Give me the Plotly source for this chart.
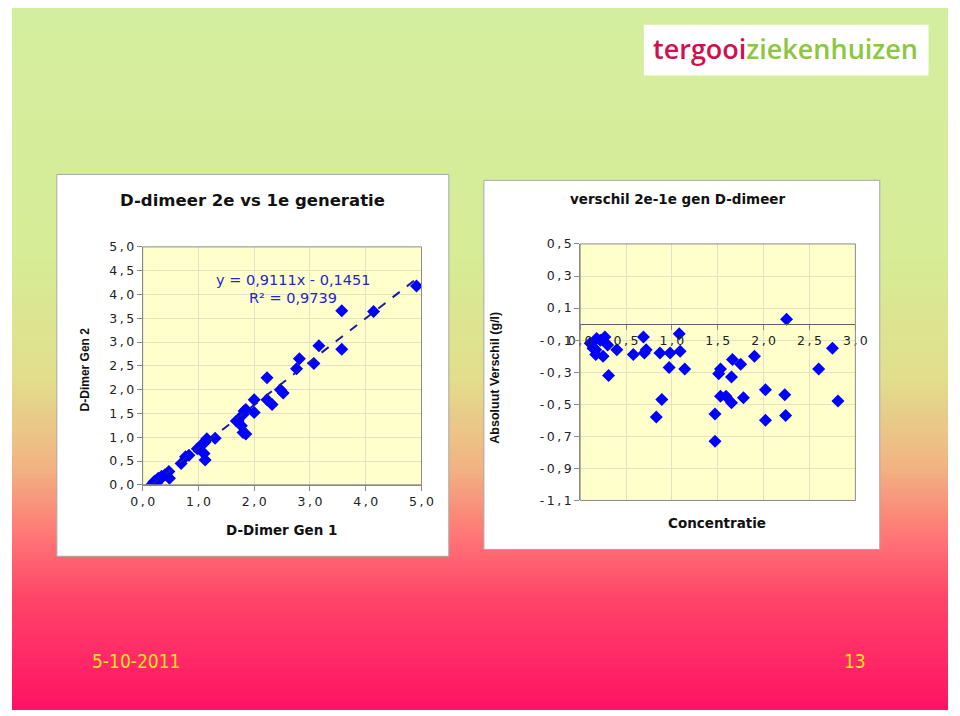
import plotly.graph_objects as go

W, H = 960, 716

# left chart: D-dimer gen 1 vs gen 2
gen1 = [0.16, 0.22, 0.25, 0.28, 0.34, 0.40, 0.47, 0.48, 0.30, 0.20,
        0.69, 0.77, 0.83, 0.98, 1.07, 1.12, 1.15, 1.30, 1.10, 1.12,
        1.68, 1.71, 1.77, 1.80, 1.80, 1.82, 1.85, 1.85, 2.00, 2.00,
        2.23, 2.23, 2.32, 2.47, 2.52, 2.76, 2.81, 3.07, 3.16, 3.57,
        3.57, 4.14, 4.91]
gen2 = [0.00, 0.08, 0.04, 0.14, 0.18, 0.21, 0.28, 0.14, 0.10, 0.06,
        0.45, 0.59, 0.62, 0.76, 0.86, 0.90, 0.97, 0.98, 0.66, 0.52,
        1.34, 1.34, 1.24, 1.10, 1.48, 1.55, 1.58, 1.07, 1.79, 1.52,
        2.25, 1.79, 1.69, 2.00, 1.93, 2.44, 2.65, 2.55, 2.92, 3.66,
        2.85, 3.64, 4.18]

slope = 0.9111
intercept = -0.1451
r_squared = 0.9739
trend_x = [0.15, 4.95]

# right chart: difference vs concentration
conc = [0.11, 0.17, 0.17, 0.18, 0.25, 0.27, 0.30, 0.31, 0.40, 0.58,
        0.69, 0.70, 0.72, 0.83, 0.87, 0.89, 0.97, 0.98, 1.08, 1.09,
        1.14, 1.47, 1.47, 1.51, 1.53, 1.53, 1.59, 1.65, 1.65, 1.66,
        1.75, 1.78, 1.90, 2.02, 2.02, 2.23, 2.24, 2.25, 2.60, 2.75,
        2.81, 0.22, 0.14]
diff = [-0.12, -0.19, -0.16, -0.09, -0.20, -0.08, -0.13, -0.32, -0.16, -0.19,
        -0.08, -0.18, -0.16, -0.58, -0.18, -0.47, -0.27, -0.18, -0.06, -0.17,
        -0.28, -0.56, -0.73, -0.31, -0.28, -0.45, -0.45, -0.33, -0.49, -0.22,
        -0.25, -0.46, -0.20, -0.41, -0.60, -0.44, -0.57, 0.03, -0.28, -0.15,
        -0.48, -0.10, -0.15]

x_ticks_left = [0, 1, 2, 3, 4, 5]
y_ticks_left = [0, 0.5, 1, 1.5, 2, 2.5, 3, 3.5, 4, 4.5, 5]
x_ticks_right = [0, 0.5, 1, 1.5, 2, 2.5, 3]
y_ticks_right = [0.5, 0.3, 0.1, -0.1, -0.3, -0.5, -0.7, -0.9, -1.1]

FONT = "Liberation Sans, Arial, sans-serif"
WIDE = "DejaVu Sans, sans-serif"
BLUE = "#0000ff"
GRID = "#dfe3c4"
FRAME = "#8a8a8a"
THIN = "\u2009"


def px(x):
    return x / W


def py(y):
    return 1 - y / H


def spaced(v):
    # comma decimal, letters pulled apart like the original slide
    return THIN.join(("%.1f" % v).replace(".", ","))


# background gradient (slide style)
stops = [(0, (212, 238, 160)), (250, (214, 236, 150)), (380, (226, 222, 140)),
         (470, (242, 178, 130)), (540, (255, 118, 118)), (600, (255, 70, 105)),
         (716, (255, 18, 100))]


def grad(y):
    for (y0, c0), (y1, c1) in zip(stops[:-1], stops[1:]):
        if y0 <= y <= y1:
            t = (y - y0) / (y1 - y0)
            return "rgb(%d,%d,%d)" % tuple(round(a + (b - a) * t) for a, b in zip(c0, c1))
    return "rgb(255,18,100)"


shapes = []
step = 4
for y in range(0, H, step):
    shapes.append(dict(type="rect", xref="paper", yref="paper", layer="below",
                       x0=0, x1=1, y0=py(y + step + 1), y1=py(y),
                       fillcolor=grad(y + step / 2), line=dict(width=0)))

# white chart panels and logo box
for x0, y0, x1, y1 in [(46, 170, 448, 560), (484, 176, 890, 553)]:
    shapes.append(dict(type="rect", xref="paper", yref="paper", layer="below",
                       x0=px(x0), x1=px(x1), y0=py(y1), y1=py(y0),
                       fillcolor="white", line=dict(color="#a8a8a8", width=1)))
shapes.append(dict(type="rect", xref="paper", yref="paper", layer="below",
                   x0=px(648), x1=px(940), y0=py(69), y1=py(17),
                   fillcolor="white", line=dict(width=0)))

# plot area backgrounds + frames
for xr, yr in [("x domain", "y domain"), ("x2 domain", "y2 domain")]:
    shapes.append(dict(type="rect", xref=xr, yref=yr, layer="below",
                       x0=0, x1=1, y0=0, y1=1,
                       fillcolor="#ffffcc", line=dict(width=0)))
    shapes.append(dict(type="rect", xref=xr, yref=yr, layer="above",
                       x0=0, x1=1, y0=0, y1=1,
                       fillcolor="rgba(0,0,0,0)", line=dict(color=FRAME, width=1)))

fig = go.Figure()

fig.add_trace(go.Scatter(
    x=gen1, y=gen2, mode="markers", xaxis="x", yaxis="y",
    marker=dict(symbol="diamond", size=10, color=BLUE),
))
fig.add_trace(go.Scatter(
    x=trend_x, y=[slope * v + intercept for v in trend_x], mode="lines",
    xaxis="x", yaxis="y",
    line=dict(color="#1a1aa8", width=2, dash="dash"),
))
fig.add_trace(go.Scatter(
    x=conc, y=diff, mode="markers", xaxis="x2", yaxis="y2",
    marker=dict(symbol="diamond", size=10, color=BLUE),
))

axis_common = dict(
    showgrid=True, gridcolor=GRID, gridwidth=1, zeroline=False,
    showline=True, linecolor=FRAME, linewidth=1,
    ticks="outside", ticklen=5, tickcolor=FRAME,
    tickfont=dict(family=WIDE, size=12.5, color="#222222"),
)

left_dom_x = [px(134), px(420)]
left_dom_y = [py(487), py(244)]
right_dom_x = [px(582.7), px(865)]
right_dom_y = [py(503), py(241)]
zero_pos = right_dom_y[0] + (0 - (-1.1)) / 1.6 * (right_dom_y[1] - right_dom_y[0])

fig.update_layout(
    width=W, height=H,
    margin=dict(l=0, r=0, t=0, b=0),
    paper_bgcolor="white",
    plot_bgcolor="rgba(0,0,0,0)",
    showlegend=False,
    font=dict(family=FONT),
    xaxis=dict(axis_common, domain=left_dom_x, range=[0, 5], anchor="y",
               tickvals=x_ticks_left, ticktext=[spaced(v) for v in x_ticks_left]),
    yaxis=dict(axis_common, domain=left_dom_y, range=[0, 5], anchor="x",
               tickvals=y_ticks_left, ticktext=[spaced(v) for v in y_ticks_left]),
    xaxis2=dict(axis_common, domain=right_dom_x, range=[0, 3],
                anchor="free", position=zero_pos, linecolor="#606060",
                tickvals=x_ticks_right, ticktext=[spaced(v) for v in x_ticks_right]),
    yaxis2=dict(axis_common, domain=right_dom_y, range=[-1.1, 0.5], anchor="x2",
                tickvals=y_ticks_right, ticktext=[spaced(v) for v in y_ticks_right]),
    shapes=shapes,
)

dark = "#111111"
annotations = [
    dict(text="<b>D-dimeer 2e vs 1e generatie</b>", x=px(247), y=py(197),
         font=dict(family=WIDE, size=16.5, color=dark)),
    dict(text="<b>verschil 2e-1e gen D-dimeer</b>", x=px(683), y=py(195),
         font=dict(family=WIDE, size=13.5, color=dark)),
    dict(text="<b>D-Dimer Gen 1</b>", x=px(276), y=py(533),
         font=dict(family=WIDE, size=13.5, color=dark)),
    dict(text="<b>D-Dimer Gen 2</b>", x=px(75), y=py(369), textangle=-90,
         font=dict(family=FONT, size=12, color=dark)),
    dict(text="<b>Concentratie</b>", x=px(723), y=py(526),
         font=dict(family=WIDE, size=13.5, color=dark)),
    dict(text="<b>Absoluut Verschil (g/l)</b>", x=px(495), y=py(378), textangle=-90,
         font=dict(family=FONT, size=12.5, color=dark)),
    dict(text='<span style="color:#cf0f4e">tergooi</span>'
              '<span style="color:#8dc63f">ziekenhuizen</span>',
         x=px(793), y=py(41),
         font=dict(family="Open Sans, sans-serif", size=27, weight=600)),
    dict(text="5-10-2011", x=px(127), y=py(667),
         font=dict(family="Liberation Sans Narrow, DejaVu Sans Condensed, sans-serif",
                   size=19, color="#ffe31a")),
    dict(text="13", x=px(865), y=py(667),
         font=dict(family="Liberation Sans Narrow, DejaVu Sans Condensed, sans-serif",
                   size=19, color="#ffe31a")),
]
for a in annotations:
    a.update(xref="paper", yref="paper", showarrow=False,
             xanchor="center", yanchor="middle")

# regression equation inside the left chart
eq_x = 2.69
annotations.append(dict(
    text="y = %sx - %s" % (("%.4f" % slope).replace(".", ","),
                          ("%.4f" % -intercept).replace(".", ",")),
    x=eq_x, y=4.30, xref="x", yref="y", showarrow=False,
    font=dict(family=WIDE, size=14.5, color="#2626c8")))
annotations.append(dict(
    text="R² = %s" % ("%.4f" % r_squared).replace(".", ","),
    x=eq_x, y=3.93, xref="x", yref="y", showarrow=False,
    font=dict(family=WIDE, size=14.5, color="#2626c8")))

fig.update_layout(annotations=annotations)

fig.write_html("out.html", config={"displayModeBar": False},
               post_script="document.body.style.margin='0';")
